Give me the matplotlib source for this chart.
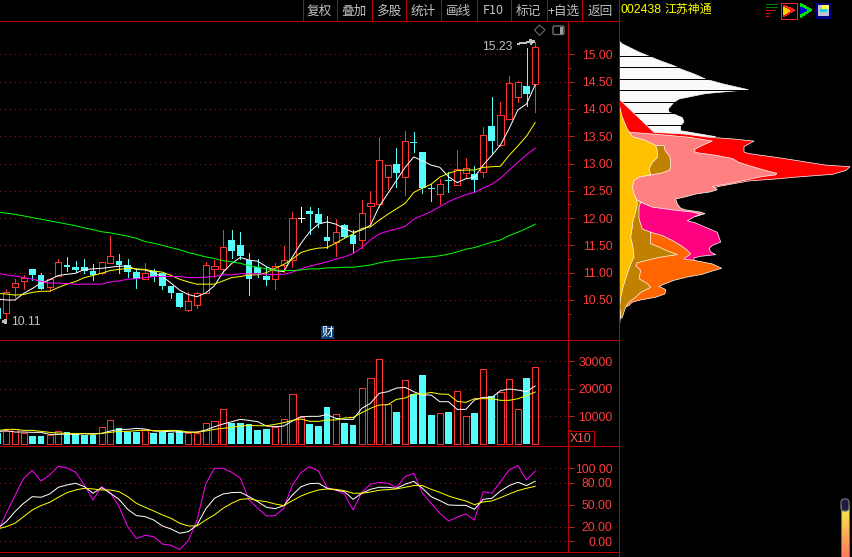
#!/usr/bin/env python3
"""Stock K-line screen for 002438: candles, volume, KDJ and chip distribution."""

import numpy as np
import matplotlib
matplotlib.use("Agg")
import matplotlib.pyplot as plt
from matplotlib.patches import Rectangle, Polygon, FancyBboxPatch

W, H = 852, 557

# daily prices
opens = [10.36, 10.27, 10.74, 10.84, 11.07, 10.96, 10.74, 10.94, 11.14, 11.10, 11.10, 11.03, 11.00,
         11.18, 11.215, 11.135, 11.01, 10.88, 11.04, 10.99, 10.76, 10.63, 10.32, 10.40, 10.63, 11.07,
         11.07, 11.59, 11.50, 11.23, 11.10, 10.94, 10.89, 11.135, 11.23, 12.01, 12.13, 12.075, 11.65,
         11.57, 11.87, 11.69, 11.60, 12.23, 12.26, 12.76, 12.99, 12.75, 13.40, 13.21, 12.56, 12.45,
         12.70, 12.60, 12.82, 12.81, 12.85, 13.69, 13.33, 13.81, 14.21, 14.42, 14.45]
closes = [10.16, 10.65, 10.805, 10.90, 10.96, 10.71, 10.88, 11.19, 11.10, 11.05, 11.04, 10.96, 11.19,
          11.30, 11.14, 11.02, 10.885, 10.99, 10.92, 10.76, 10.63, 10.37, 10.48, 10.63, 11.15, 11.12,
          11.465, 11.40, 11.30, 10.89, 10.99, 10.87, 11.12, 11.23, 12.01, 12.01, 12.075, 11.91, 11.58,
          11.74, 11.65, 11.53, 12.09, 12.27, 13.06, 12.97, 12.825, 13.42, 13.38, 12.545, 12.53, 12.62,
          12.685, 12.905, 12.91, 12.70, 13.515, 13.42, 13.88, 14.47, 14.49, 14.28, 15.13]
highs = [10.40, 10.71, 10.885, 10.96, 11.07, 10.99, 10.90, 11.245, 11.28, 11.215, 11.26, 11.16, 11.19,
         11.68, 11.34, 11.25, 11.08, 11.17, 11.06, 11.00, 10.76, 10.63, 10.65, 10.65, 11.19, 11.23,
         11.78, 11.79, 11.745, 11.355, 11.245, 11.10, 11.17, 11.49, 12.105, 12.21, 12.20, 12.18, 12.04,
         11.98, 11.90, 11.78, 12.33, 12.50, 13.485, 12.97, 13.28, 13.59, 13.58, 13.21, 12.62, 12.72,
         12.84, 13.25, 13.10, 12.95, 13.66, 14.22, 14.13, 14.60, 14.52, 15.115, 15.23]
lows = [10.14, 10.11, 10.56, 10.70, 10.87, 10.70, 10.665, 10.94, 11.04, 11.02, 10.99, 10.87, 10.98,
        11.17, 11.00, 10.93, 10.725, 10.88, 10.85, 10.70, 10.54, 10.37, 10.30, 10.36, 10.63, 10.915,
        10.99, 11.27, 11.245, 10.59, 10.93, 10.775, 10.71, 11.02, 11.10, 11.92, 11.71, 11.83, 11.445,
        11.305, 11.65, 11.37, 11.445, 11.90, 12.21, 12.53, 12.57, 12.42, 13.21, 12.46, 12.31, 12.26,
        12.47, 12.60, 12.73, 12.49, 12.75, 13.19, 13.32, 13.81, 14.13, 14.05, 13.95]

ma5 = [10.52, 10.50, 10.50, 10.62, 10.71, 10.81, 10.87, 10.95, 10.97, 10.99, 11.06, 11.07, 11.08, 11.10,
       11.12, 11.12, 11.06, 11.05, 11.00, 10.93, 10.81, 10.68, 10.60, 10.56, 10.63, 10.76, 11.01, 11.17,
       11.28, 11.23, 11.21, 11.11, 11.04, 11.02, 11.29, 11.54, 11.75, 11.89, 11.93, 11.89, 11.81, 11.74,
       11.78, 11.87, 12.21, 12.45, 12.69, 12.93, 13.12, 13.05, 12.97, 12.93, 12.76, 12.65, 12.72, 12.75,
       12.97, 13.15, 13.34, 13.64, 13.98, 14.09, 14.44]
ma10 = [10.62, 10.61, 10.59, 10.60, 10.64, 10.66, 10.66, 10.73, 10.79, 10.84, 10.91, 10.95, 10.99, 11.04,
        11.06, 11.08, 11.07, 11.06, 11.03, 11.01, 10.95, 10.88, 10.83, 10.79, 10.79, 10.79, 10.85, 10.91,
        10.93, 10.96, 10.96, 11.00, 11.08, 11.15, 11.25, 11.37, 11.42, 11.45, 11.46, 11.54, 11.63, 11.71,
        11.81, 11.84, 11.96, 12.07, 12.17, 12.27, 12.47, 12.55, 12.62, 12.75, 12.82, 12.87, 12.88, 12.88,
        12.93, 12.94, 12.95, 13.15, 13.32, 13.50, 13.75]
ma20 = [10.99, 10.96, 10.94, 10.91, 10.88, 10.84, 10.81, 10.81, 10.80, 10.79, 10.79, 10.79, 10.79, 10.83,
        10.85, 10.88, 10.89, 10.91, 10.93, 10.93, 10.93, 10.93, 10.91, 10.91, 10.92, 10.93, 10.96, 10.96,
        10.98, 10.98, 10.98, 10.97, 10.97, 10.97, 11.01, 11.07, 11.12, 11.16, 11.20, 11.25, 11.29, 11.35,
        11.46, 11.60, 11.71, 11.76, 11.80, 11.85, 11.98, 12.05, 12.12, 12.21, 12.30, 12.37, 12.43, 12.47,
        12.55, 12.62, 12.73, 12.88, 13.02, 13.16, 13.28]
ma60 = [12.11, 12.09, 12.07, 12.04, 12.01, 11.98, 11.95, 11.92, 11.89, 11.86, 11.82, 11.79, 11.75, 11.73,
        11.70, 11.67, 11.63, 11.57, 11.54, 11.50, 11.46, 11.42, 11.37, 11.33, 11.29, 11.26, 11.22, 11.20,
        11.17, 11.13, 11.10, 11.07, 11.05, 11.04, 11.04, 11.05, 11.07, 11.07, 11.09, 11.09, 11.10, 11.10,
        11.12, 11.14, 11.18, 11.21, 11.23, 11.25, 11.26, 11.28, 11.29, 11.31, 11.34, 11.38, 11.43, 11.46,
        11.51, 11.56, 11.60, 11.68, 11.74, 11.81, 11.89]

# volume, in lots / 10
volume = [3880, 4730, 5210, 3760, 2790, 2790, 3030, 4480, 4240, 3390, 3150, 3150, 5940, 8480, 5700, 4360,
          4360, 4970, 3880, 4360, 4000, 4730, 3760, 3760, 7390, 8120, 12480, 7390, 7510, 7030, 4970, 5330,
          5940, 8850, 17940, 9570, 7150, 6420, 13330, 10670, 7510, 6790, 20120, 23760, 30660, 14300, 11510,
          23030, 18060, 24970, 10420, 11030, 11510, 19030, 9940, 11150, 27030, 17330, 18660, 23390, 12480,
          23880, 27750]
vol_ma5 = [4360, 4730, 4240, 4240, 4120, 4120, 3390, 3390, 3510, 3390, 3640, 3640, 3760, 4610, 5210, 5210,
           5580, 5330, 4610, 4480, 4360, 4240, 4120, 4240, 4970, 6180, 7150, 8000, 8850, 8480, 8000, 6420,
           6180, 6420, 8240, 9820, 9940, 9940, 10540, 9210, 8850, 8850, 12850, 14670, 18300, 18910, 20240,
           20480, 18910, 17700, 17700, 15270, 15270, 12480, 12480, 15880, 16850, 16850, 19270, 19880, 19510,
           18910, 20970]
vol_ma10 = [4730, 5210, 5210, 4850, 4850, 4480, 4120, 3880, 3760, 3640, 3640, 3390, 3760, 4120, 4480, 4480,
            4730, 4970, 4730, 4730, 4850, 4730, 4240, 4120, 4610, 5210, 5580, 5940, 6420, 6670, 6540, 6540,
            7030, 7640, 8480, 8970, 8120, 8120, 8610, 8610, 9330, 9570, 11270, 12850, 14060, 14180, 16120,
            16600, 18060, 18060, 18660, 18060, 17940, 15390, 15030, 16360, 16360, 16360, 15760, 15760, 16360,
            17450, 18790]

# KDJ
kdj_k = [17.8, 26.9, 40.6, 52.1, 61.2, 60.3, 64.8, 74.0, 77.2, 79.5, 74.9, 65.8, 73.5, 65.8, 57.5, 43.8,
         35.2, 33.8, 29.2, 21.0, 16.9, 11.0, 13.2, 22.4, 44.3, 58.9, 64.8, 66.7, 67.1, 61.2, 54.3, 46.6,
         44.7, 48.9, 63.5, 74.9, 79.0, 79.5, 72.6, 70.3, 68.0, 57.5, 65.8, 71.2, 74.0, 74.0, 72.6, 78.1,
         82.2, 72.6, 61.2, 55.7, 49.8, 49.3, 49.3, 43.8, 57.5, 58.9, 68.9, 76.3, 80.8, 76.3, 82.2]
kdj_d = [16.9, 20.1, 24.7, 33.8, 42.9, 48.9, 53.4, 60.3, 66.7, 70.3, 72.6, 71.7, 70.3, 70.3, 68.0, 61.2,
         52.1, 46.6, 41.6, 36.1, 31.5, 24.7, 21.0, 21.0, 29.2, 36.1, 45.2, 52.1, 57.5, 58.4, 55.7, 54.3,
         51.1, 48.9, 55.7, 62.1, 66.7, 70.3, 71.7, 71.2, 69.4, 65.8, 65.8, 67.6, 69.9, 70.8, 71.7, 74.0,
         76.3, 76.3, 71.2, 67.1, 62.1, 58.4, 55.3, 50.2, 53.9, 55.3, 59.8, 64.8, 69.4, 72.6, 75.3]
kdj_j = [13.2, 38.4, 62.6, 86.3, 97.3, 82.6, 90.9, 102.7, 100.5, 94.5, 77.2, 56.6, 74.9, 66.7, 47.5, 20.1,
         3.7, 8.2, 6.4, -3.7, -5.5, -11.4, 0.9, 29.2, 78.5, 100.0, 100.0, 94.5, 86.3, 56.6, 45.2, 34.7,
         35.2, 45.2, 77.2, 94.1, 102.3, 96.3, 73.5, 70.3, 64.8, 42.9, 67.1, 78.1, 80.8, 79.5, 74.0, 88.6,
         93.2, 65.8, 52.1, 38.4, 27.9, 32.9, 37.4, 29.2, 68.0, 65.8, 81.7, 97.7, 103.7, 84.0, 96.3]

# chip distribution: price level and amount for each layer
chip_white_p = [15.26, 15.20, 15.14, 15.05, 14.97, 14.90, 14.80, 14.74, 14.65, 14.55, 14.47, 14.36, 14.29,
                14.19, 14.13, 14.01, 13.95, 13.85, 13.77, 13.70, 13.61, 13.50, 13.48]
chip_white_w = [0, 3.3, 10, 20, 30.7, 40, 55, 61.7, 75, 87.3, 103.3, 129.3, 86.7, 60, 55, 49.3, 50, 63.3,
                65, 61.7, 61.7, 96.7, 0]
chip_gaps = [14.96, 14.76, 14.54, 14.34, 14.13, 13.92, 13.70]
chip_red_p = [14.18, 13.58, 13.55, 13.49, 13.46, 13.42, 13.32, 13.22, 13.19, 13.11, 12.98, 12.95, 12.88,
              12.81, 12.76, 12.73, 12.69, 12.59, 12.55]
chip_red_w = [0.7, 35, 65, 90, 113.3, 135, 125, 125, 130, 161.7, 206.7, 231, 226.7, 213.3, 176.7, 160, 130,
              100, 93.3]
chip_pink_p = [13.58, 13.54, 13.49, 13.42, 13.34, 13.26, 13.21, 13.16, 13.10, 13.03, 12.97, 12.89, 12.83,
               12.80, 12.77, 12.72, 12.64, 12.59, 12.53, 12.49, 12.45, 12.40, 12.36, 12.27, 12.19, 12.16,
               12.12, 12.09, 12.04, 12.01]
chip_pink_w = [11.7, 40, 70, 93.3, 83.3, 75, 76.7, 96.7, 113.3, 120, 130, 145, 157.7, 156.7, 143.3, 130, 110,
               93.3, 98.3, 91.7, 76.7, 66.7, 56.7, 58.3, 61.7, 66.7, 81.7, 86, 76.7, 0]
chip_deep_p = [12.30, 12.21, 12.16, 12.12, 12.08, 12.04, 11.96, 11.92, 11.84, 11.75, 11.66, 11.57, 11.51,
               11.45, 11.39, 11.34, 11.31, 11.28, 11.21, 11.20]
chip_deep_w = [21.7, 33.3, 53.3, 73.3, 81.7, 76, 68.3, 76.7, 86.7, 98.3, 100, 101.7, 93.3, 90, 91.7, 96.7,
               81.7, 75, 75, 0]
chip_orange_p = [11.75, 11.69, 11.60, 11.51, 11.42, 11.35, 11.29, 11.26, 11.23, 11.17, 11.09, 11.04, 10.98,
                 10.93, 10.87, 10.81, 10.76, 10.70, 10.62, 10.56, 10.51, 10.47, 10.41, 10.38]
chip_orange_w = [31.7, 43.3, 53.3, 61.7, 68.3, 71.7, 66.7, 65, 76.7, 93.3, 102.7, 93.3, 83.3, 68.3, 55, 46.7,
                 40, 46.7, 46, 36.7, 21.7, 13.3, 10, 6.7]
chip_ochre_p = [13.345, 13.34, 13.25, 13.14, 13.03, 12.94, 12.88, 12.83, 12.80, 12.78, 12.36, 12.34, 12.30,
                12.21, 12.00, 11.81, 11.75, 11.54, 11.48, 11.42, 11.34, 11.29, 11.23, 11.19, 11.14, 11.05,
                10.90, 10.81, 10.74, 10.65, 10.56, 10.47, 10.38, 10.29, 10.19, 10.16]
chip_ochre_w = [3.3, 45, 46, 50.7, 51.7, 51.7, 50, 41.7, 31.7, 3.3, 3.3, 18.3, 21.7, 20, 20, 23.3, 31.7, 31.7,
                40, 46.7, 58.3, 40, 26.7, 18.3, 16.7, 21.7, 20, 28.3, 31.7, 21.7, 16.7, 10, 6.7, 5, 3.3, 0]
chip_gold_p = [14.05, 13.86, 13.64, 13.58, 13.50, 13.43, 13.34, 13.25, 13.12, 13.03, 12.91, 12.80, 12.76,
               12.70, 12.58, 12.45, 12.36, 12.27, 12.12, 11.96, 11.84, 11.66, 11.48, 11.29, 11.17, 10.99,
               10.74, 10.56, 10.38, 10.26, 10.07, 10.00]
chip_gold_w = [0.7, 3.3, 8.3, 10.7, 13.3, 26.7, 36.7, 38.3, 38.3, 33.3, 30, 31.7, 20, 15, 13.3, 15, 17.3, 18.3,
               16.7, 14, 13.3, 11.7, 14, 15, 11.7, 8.3, 4, 1.7, 0.7, 1.7, 0.7, 0]

price_ticks = [10.5, 11.0, 11.5, 12.0, 12.5, 13.0, 13.5, 14.0, 14.5, 15.0]
price_minor = [10.25, 10.75, 11.25, 11.75, 12.25, 12.75, 13.25, 13.75, 14.25, 14.75]
vol_ticks = [10000, 20000, 30000]
vol_minor = [5000, 15000, 25000]
kdj_ticks = [0, 20, 50, 80, 100]

menu_labels = ["复权", "叠加", "多股", "统计", "画线", "F10", "标记", "+自选", "返回"]
menu_edges = [302.5, 336.5, 371.5, 406, 441, 476.5, 511, 546.5, 581.5, 618.5]

BG = "#000000"
FRAME = "#c00000"
RED = "#ff3232"
CYAN = "#54fcfc"
GRID = "#a01818"
LABEL = "#ff3c3c"
GRAY = "#c0c0c0"
LW = 0.5     # straight lines, with smoothing off this lands on one pixel
CURVE = 0.72 # sloped lines stay smoothed, one pixel wide
LATIN = ["Liberation Sans", "Noto Sans CJK SC"]
CJK = ["Noto Sans CJK SC", "Liberation Sans"]

plt.rcParams["font.family"] = LATIN
# the screen is drawn without smoothing
plt.rcParams["lines.antialiased"] = False
plt.rcParams["patch.antialiased"] = False
fig = plt.figure(figsize=(W / 100, H / 100), dpi=100, facecolor=BG)


def px_axes(x0, y0, x1, y1):
    ax = fig.add_axes([x0 / W, 1 - y1 / H, (x1 - x0) / W, (y1 - y0) / H], facecolor=BG)
    return ax


def style_panel(ax, ticks, minor, fmt, ylim):
    # candle i sits at px 8.67 * i - 2.37
    ax.set_xlim(2.37 / 8.67, (567.5 + 2.37) / 8.67)
    ax.set_ylim(*ylim)
    for side in ["top", "left", "bottom"]:
        ax.spines[side].set_visible(False)
    ax.spines["right"].set_color(FRAME)
    ax.spines["right"].set_linewidth(LW)
    ax.set_xticks([])
    ax.yaxis.tick_right()
    ax.set_yticks(ticks)
    ax.set_yticks(minor, minor=True)
    ax.set_yticklabels([fmt.format(t) for t in ticks])
    ax.tick_params(axis="y", which="major", length=4.4, width=LW, color=RED,
                   labelcolor=LABEL, labelsize=8.8, pad=28)
    ax.tick_params(axis="y", which="minor", length=2.2, width=LW, color=RED)
    for lab in ax.get_yticklabels():
        lab.set_horizontalalignment("right")
    for t in ticks:
        ax.axhline(t, color=GRID, lw=0.72, ls=(0, (1, 5)), zorder=1)


x = np.arange(len(opens))
opens_a, closes_a = np.array(opens), np.array(closes)
up = closes_a >= opens_a
is_doji = closes_a == opens_a
candle_col = [("#ffffff" if d else RED if u else CYAN) for u, d in zip(up, is_doji)]

# price panel
ax = px_axes(0, 20.5, 567.5, 339.5)
style_panel(ax, price_ticks, price_minor, "{:.2f}", (15 - (339.5 - 54.3) / 54.6, 15 + (54.3 - 20.5) / 54.6))
ax.vlines(x, lows, highs, colors=candle_col, lw=LW, zorder=2, antialiased=False)
for i in x:
    top, bot = max(opens[i], closes[i]), min(opens[i], closes[i])
    if is_doji[i]:
        ax.hlines(top, i - 0.38, i + 0.38, color="#ffffff", lw=LW, zorder=3, antialiased=False)
    elif up[i]:
        ax.bar(i, top - bot, bottom=bot, width=0.72, facecolor=BG, edgecolor=RED, linewidth=LW, zorder=3)
    else:
        ax.bar(i, top - bot, bottom=bot, width=0.78, facecolor=CYAN, edgecolor=CYAN, linewidth=0, zorder=3)
ax.plot(x, ma5, color="#ffffff", lw=CURVE, zorder=4, antialiased=True)
ax.plot(x, ma10, color="#ffff00", lw=CURVE, zorder=4, antialiased=True)
ax.plot(x, ma20, color="#ff00ff", lw=CURVE, zorder=4, antialiased=True)
ax.plot(x, ma60, color="#00ff00", lw=CURVE, zorder=4, antialiased=True)
ax.annotate("15.23", xy=(62, max(highs) + 0.01), xytext=(57.65, 15.14), color=GRAY, fontsize=8.8,
            ha="center", va="center",
            arrowprops=dict(arrowstyle="->", color=GRAY, lw=0.7, shrinkA=2, shrinkB=0, mutation_scale=7))
ax.annotate("10.11", xy=(0.45, min(lows)), xytext=(3.21, min(lows) - 0.02), color=GRAY, fontsize=8.8,
            ha="center", va="center",
            arrowprops=dict(arrowstyle="->", color=GRAY, lw=0.7, shrinkA=1, shrinkB=0, mutation_scale=6))

# volume panel
vax = px_axes(0, 339.5, 567.5, 445.5)
style_panel(vax, vol_ticks, vol_minor, "{:d}", (-660, (443.7 - 339.5) / 27.5 * 10000))
for i in x:
    if up[i]:
        vax.bar(i, volume[i], width=0.72, facecolor=BG, edgecolor=RED, linewidth=LW, zorder=3)
    else:
        vax.bar(i, volume[i], width=0.78, facecolor=CYAN, edgecolor=CYAN, linewidth=0, zorder=3)
vax.plot(x, vol_ma5, color="#ffffff", lw=CURVE, zorder=4, antialiased=True)
vax.plot(x, vol_ma10, color="#ffff00", lw=CURVE, zorder=4, antialiased=True)

# KDJ panel
kax = px_axes(0, 445.5, 567.5, 551.5)
style_panel(kax, kdj_ticks, [], "{:.2f}", (-(551.5 - 541.3) / 0.73, (541.3 - 445.5) / 0.73))
kax.plot(x, kdj_j, color="#ff00ff", lw=CURVE, zorder=3, antialiased=True)
kax.plot(x, kdj_k, color="#ffffff", lw=CURVE, zorder=4, antialiased=True)
kax.plot(x, kdj_d, color="#ffff00", lw=CURVE, zorder=4, antialiased=True)

# chip distribution
cax = px_axes(618.5, 20.5, W, 339.5)
cax.set_xlim(0, W - 618.5)
cax.set_ylim(*ax.get_ylim())
cax.axis("off")
cax.fill_betweenx(chip_white_p, 0, chip_white_w, facecolor="#fafafa", edgecolor="#fafafa", lw=LW, zorder=1,
                  antialiased=False)
cax.hlines(chip_gaps, 0, 135, color=BG, lw=LW, zorder=2, antialiased=False)
layers = [(chip_red_p, chip_red_w, "#ff0000"), (chip_pink_p, chip_pink_w, "#ff8080"),
          (chip_deep_p, chip_deep_w, "#ff0080"), (chip_orange_p, chip_orange_w, "#ff6600"),
          (chip_ochre_p, chip_ochre_w, "#c08000"), (chip_gold_p, chip_gold_w, "#ffc000")]
for z, (p, w, col) in enumerate(layers):
    cax.fill_betweenx(p, 0, w, facecolor=col, edgecolor="#ffffff", lw=LW, zorder=3 + z, antialiased=False)

# screen furniture, in pixels
over = fig.add_axes([0, 0, 1, 1], facecolor="none")
over.set_xlim(0, W)
over.set_ylim(H, 0)
over.axis("off")
over.hlines([20.5, 339.5, 445.5, 551.5], 0, 618.5, color=FRAME, lw=LW, antialiased=False)
over.vlines(618.5, 0, H, color=FRAME, lw=LW, antialiased=False)
over.vlines(menu_edges[:-1], 0, 20.5, color=FRAME, lw=LW, antialiased=False)
for lab, a, b in zip(menu_labels, menu_edges[:-1], menu_edges[1:]):
    # this label renders a little high with the others on one baseline
    base = 16 if lab == "多股" else 14.5
    over.text((a + b) / 2, base, lab, color=GRAY, fontsize=9.1, family=CJK, ha="center", va="baseline")
over.text(620.5, 13, "002438", color="#ffff00", fontsize=8.9, family=LATIN, ha="left", va="baseline")
over.text(664.5, 13, "江苏神通", color="#ffff00", fontsize=8.6, family=CJK, ha="left", va="baseline")

# X10 box and the 财 flag
over.add_patch(Rectangle((567.5, 431), 26, 14.5, fc="none", ec=FRAME, lw=LW))
over.text(580.5, 438.5, "X10", color="#ff5a5a", fontsize=8.8, ha="center", va="center")
over.add_patch(Rectangle((321, 326), 13, 13, fc="#0f3f77", ec="none"))
over.text(327.5, 332, "财", color="#ffffff", fontsize=8.6, family=CJK, ha="center", va="center")

# small marks above the last candle
over.add_patch(Polygon([(539.5, 25), (545, 30), (539.5, 35.5), (534.5, 30)], fc="none", ec="#707070", lw=0.75,
                       antialiased=True))
over.add_patch(FancyBboxPatch((553, 26), 11, 8.5, boxstyle="round,pad=0,rounding_size=1.5",
                              fc="none", ec="#707070", lw=1.0, antialiased=True))
over.add_patch(Rectangle((560, 27), 3, 6.5, fc="#a0a0a0", ec="none"))

# toolbar icons
over.hlines([4, 7, 10], 766, [777, 777, 775], color="#008000", lw=LW, antialiased=False)
over.hlines([10, 13, 16], 766, [772, 769, 768], color="#ff0000", lw=LW, antialiased=False)
over.add_patch(Rectangle((780.5, 2.5), 16, 16, fc="none", ec="#ff2020", lw=LW))
over.add_patch(Polygon([(783, 5), (795, 10), (783, 17)], fc="#ff2020", ec="none"))
over.add_patch(Polygon([(783, 7), (790, 10.5), (783, 15)], fc="#ffd000", ec="none"))
over.add_patch(Polygon([(800, 3), (812, 10), (800, 18)], fc="#00e000", ec="none"))
over.add_patch(Polygon([(800, 7), (807, 10), (800, 14)], fc="#0000e0", ec="none"))
over.add_patch(Rectangle((816, 2.5), 15, 16, fc="#000080", ec="none"))
over.add_patch(Rectangle((818, 5), 11, 11, fc="#c0c0d8", ec="none"))
over.add_patch(Rectangle((822, 5), 7, 4, fc="#ffff40", ec="none"))
over.add_patch(Rectangle((820, 9), 7, 3, fc="#20d0d0", ec="none"))

# scrollbar at the bottom right
grad = np.linspace(0, 1, 60).reshape(-1, 1)
over.imshow(grad, extent=(841, 849, 557, 510), aspect="auto", zorder=3,
            cmap=matplotlib.colors.LinearSegmentedColormap.from_list("bar", ["#f5e650", "#ff7a5a"]))
over.add_patch(FancyBboxPatch((841, 499), 8, 12, boxstyle="round,pad=0,rounding_size=3.5",
                              fc="#1c1c40", ec="#707070", lw=0.9, zorder=4, antialiased=True))
over.vlines([840.7, 849.3], 505, H, color="#707070", lw=LW, zorder=5, antialiased=False)
over.set_xlim(0, W)
over.set_ylim(H, 0)

fig.savefig("out.png", dpi=100, facecolor=BG)
